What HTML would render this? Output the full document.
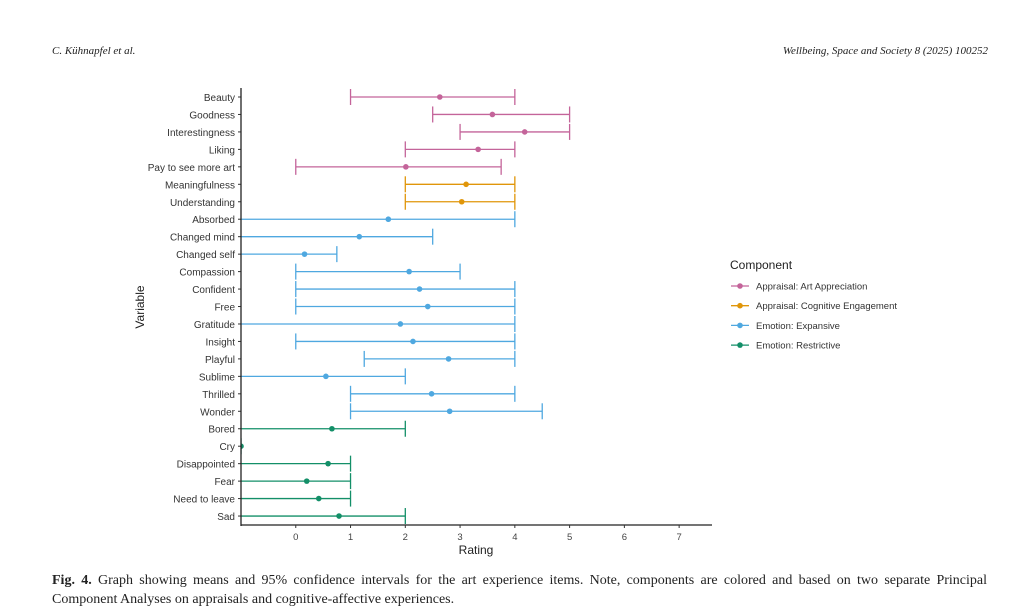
<!DOCTYPE html>
<html><head><meta charset="utf-8"><style>
body{margin:0;width:1029px;height:615px;background:#fff;overflow:hidden;position:relative;font-family:"Liberation Serif",serif}
.hdr{position:absolute;top:45px;font-size:11px;font-style:italic;color:#222}
.cap{position:absolute;left:52px;top:571px;width:935px;font-size:14px;line-height:19px;color:#222;white-space:nowrap}
.l1{text-align:justify;text-align-last:justify}
</style></head><body>
<div class="hdr" style="left:52px">C. Kühnapfel et al.</div>
<div class="hdr" style="right:41px">Wellbeing, Space and Society 8 (2025) 100252</div>
<svg id="chart" width="1029" height="615" style="position:absolute;left:0;top:0" font-family="Liberation Sans, sans-serif"></svg>
<div class="cap"><div class="l1"><b>Fig. 4.</b> Graph showing means and 95% confidence intervals for the art experience items. Note, components are colored and based on two separate Principal</div><div>Component Analyses on appraisals and cognitive-affective experiences.</div></div>
<script>
const categories=["Beauty","Goodness","Interestingness","Liking","Pay to see more art","Meaningfulness","Understanding","Absorbed","Changed mind","Changed self","Compassion","Confident","Free","Gratitude","Insight","Playful","Sublime","Thrilled","Wonder","Bored","Cry","Disappointed","Fear","Need to leave","Sad"];
const means=[2.63,3.59,4.18,3.33,2.01,3.11,3.03,1.69,1.16,0.16,2.07,2.26,2.41,1.91,2.14,2.79,0.55,2.48,2.81,0.66,-1,0.59,0.2,0.42,0.79];
const lower=[1,2.5,3,2,0,2,2,-1.5,-1.5,-1.5,0,0,0,-1.5,0,1.25,-1.5,1,1,-1.5,-1.5,-1.5,-1.5,-1.5,-1.5];
const upper=[4,5,5,4,3.75,4,4,4,2.5,0.75,3,4,4,4,4,4,2,4,4.5,2,-1,1,1,1,2];
const groups=[0,0,0,0,0,1,1,2,2,2,2,2,2,2,2,2,2,2,2,3,3,3,3,3,3];
const groupNames=["Appraisal: Art Appreciation","Appraisal: Cognitive Engagement","Emotion: Expansive","Emotion: Restrictive"];
const xTicks=[0,1,2,3,4,5,6,7];
const colors=["#C4649A","#E0960A","#4FA8E0","#138F68"];
const svg=document.getElementById('chart');
const NS="http://www.w3.org/2000/svg";
const X0=241,X1=712,XMIN=-1,XMAX=7.6;
const xs=v=>X0+(v-XMIN)*(X1-X0)/(XMAX-XMIN);
const ys=i=>97+i*17.46;
function mk(t,a,p){const e=document.createElementNS(NS,t);for(const k in a)e.setAttribute(k,a[k]);(p||svg).appendChild(e);return e;}
const defs=mk('defs',{});const cp=mk('clipPath',{id:'pc'},defs);mk('rect',{x:X0,y:80,width:X1-X0,height:450},cp);
const plot=mk('g',{'clip-path':'url(#pc)'});
categories.forEach((c,i)=>{
  const y=ys(i),col=colors[groups[i]];
  const g=mk('g',{},plot);
  
  
  mk('line',{x1:xs(lower[i]),x2:xs(upper[i]),y1:y,y2:y,stroke:col,'stroke-width':1.3},g);
  [lower[i],upper[i]].forEach(v=>mk('line',{x1:xs(v),x2:xs(v),y1:y-8,y2:y+8,stroke:col,'stroke-width':1.3},g));
  mk('circle',{cx:xs(means[i]),cy:y,r:2.8,fill:col},g);
  const t=mk('text',{x:235,y:y+4,'text-anchor':'end','font-size':10,fill:'#333'});t.textContent=c;
  
  
  mk('line',{x1:238,x2:241,y1:y,y2:y,stroke:'#333'});
});
const ya=mk('line',{x1:X0,x2:X0,y1:88,y2:526,stroke:'#222','stroke-width':1.3});

const xa=mk('line',{x1:X0,x2:X1,y1:525,y2:525,stroke:'#222','stroke-width':1.3});

xTicks.forEach(v=>{mk('line',{x1:xs(v),x2:xs(v),y1:525,y2:528,stroke:'#333'});
  const t=mk('text',{x:xs(v),y:540,'text-anchor':'middle','font-size':9.5,fill:'#444'});t.textContent=v;
  });
let t=mk('text',{x:476,y:554,'text-anchor':'middle','font-size':12,fill:'#222'});t.textContent='Rating';

t=mk('text',{x:0,y:0,transform:'translate(144,307) rotate(-90)','text-anchor':'middle','font-size':12,fill:'#222'});t.textContent='Variable';

t=mk('text',{x:730,y:269,'font-size':12,fill:'#222'});t.textContent='Component';

groupNames.forEach((n,i)=>{const y=286+i*19.7;const g=mk('g',{});
  
  mk('line',{x1:731,x2:749,y1:y,y2:y,stroke:colors[i],'stroke-width':1.3},g);
  mk('circle',{cx:740,cy:y,r:2.8,fill:colors[i]},g);
  const tt=mk('text',{x:756,y:y+3.5,'font-size':9.5,fill:'#333'},g);tt.textContent=n;});
</script>
</body></html>
